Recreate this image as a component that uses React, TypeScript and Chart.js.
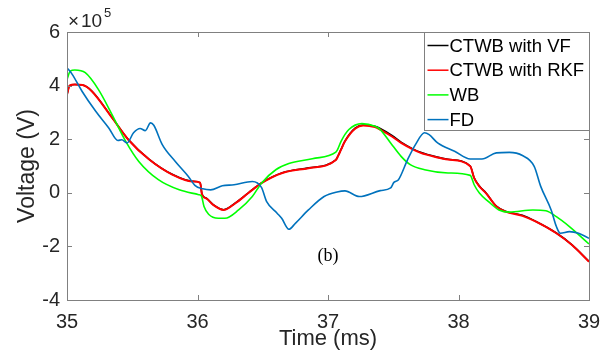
import React, { useEffect, useRef } from "react";
import { Chart, registerables } from "chart.js";

Chart.register(...registerables);

// ---- data (voltage in units of 1e5 V, time in ms) ----
const xTicks = [35, 36, 37, 38, 39];
const yTicks = [-4, -2, 0, 2, 4, 6];

const seriesNames = ["CTWB with VF", "CTWB with RKF", "WB", "FD"];
const seriesColors = ["#000000", "#ff0000", "#00ff00", "#0072bd"];

const vfT = [35.0, 35.02, 35.06, 35.12, 35.19, 35.345, 35.47, 35.63, 35.81, 35.96, 36.02, 36.035, 36.07, 36.12, 36.20, 36.29, 36.39, 36.49, 36.65, 36.85, 37.06, 37.08, 37.10, 37.13, 37.21, 37.27, 37.36, 37.40, 37.49, 37.56, 37.65, 37.71, 37.83, 37.92, 38.09, 38.12, 38.16, 38.21, 38.29, 38.36, 38.49, 38.59, 38.75, 38.87, 39.0];
const vfV = [3.67, 4.00, 4.04, 4.02, 3.80, 2.81, 1.99, 1.25, 0.68, 0.43, 0.38, -0.06, -0.21, -0.44, -0.63, -0.38, 0.0, 0.37, 0.75, 0.93, 1.23, 1.41, 1.62, 1.93, 2.42, 2.53, 2.48, 2.40, 2.14, 1.89, 1.64, 1.51, 1.34, 1.25, 1.00, 0.56, 0.25, 0.0, -0.50, -0.69, -0.84, -1.06, -1.50, -1.94, -2.56];

const rkfT = [35.0, 35.02, 35.06, 35.12, 35.19, 35.345, 35.47, 35.63, 35.81, 35.96, 36.02, 36.035, 36.07, 36.12, 36.20, 36.29, 36.39, 36.49, 36.65, 36.85, 37.06, 37.08, 37.10, 37.13, 37.21, 37.27, 37.36, 37.40, 37.49, 37.56, 37.65, 37.71, 37.83, 37.92, 38.09, 38.12, 38.16, 38.21, 38.29, 38.36, 38.49, 38.59, 38.75, 38.87, 39.0];
const rkfV = [3.67, 4.00, 4.04, 4.02, 3.79, 2.80, 1.98, 1.24, 0.67, 0.42, 0.38, -0.07, -0.22, -0.45, -0.64, -0.39, -0.01, 0.36, 0.74, 0.92, 1.22, 1.40, 1.61, 1.92, 2.40, 2.51, 2.45, 2.36, 2.10, 1.86, 1.62, 1.49, 1.33, 1.24, 0.99, 0.55, 0.24, -0.01, -0.51, -0.70, -0.86, -1.07, -1.51, -1.95, -2.57];

const wbT = [35.0, 35.025, 35.06, 35.14, 35.24, 35.345, 35.45, 35.55, 35.70, 35.86, 36.01, 36.03, 36.05, 36.085, 36.16, 36.21, 36.315, 36.42, 36.49, 36.60, 36.70, 36.88, 37.06, 37.07, 37.10, 37.16, 37.26, 37.36, 37.40, 37.48, 37.56, 37.63, 37.74, 37.92, 38.09, 38.12, 38.16, 38.23, 38.31, 38.39, 38.57, 38.67, 38.75, 38.85, 39.0];
const wbV = [4.23, 4.54, 4.58, 4.48, 3.86, 2.92, 1.92, 1.17, 0.49, 0.11, -0.07, -0.12, -0.51, -0.80, -0.95, -0.95, -0.64, -0.14, 0.36, 0.86, 1.09, 1.27, 1.52, 1.58, 1.92, 2.36, 2.58, 2.48, 2.36, 1.86, 1.36, 1.05, 0.86, 0.74, 0.65, 0.30, -0.01, -0.33, -0.64, -0.72, -0.64, -0.67, -0.89, -1.26, -1.91];

const fdT = [35.0, 35.04, 35.115, 35.22, 35.32, 35.39, 35.42, 35.46, 35.51, 35.56, 35.60, 35.64, 35.665, 35.73, 35.83, 35.93, 35.98, 36.04, 36.10, 36.19, 36.28, 36.42, 36.49, 36.53, 36.61, 36.645, 36.70, 36.75, 36.85, 36.97, 37.07, 37.13, 37.24, 37.40, 37.48, 37.505, 37.54, 37.61, 37.67, 37.74, 37.775, 37.84, 37.97, 38.09, 38.18, 38.29, 38.39, 38.49, 38.58, 38.63, 38.71, 38.75, 38.78, 38.85, 38.92, 39.0];
const fdV = [4.67, 4.42, 3.79, 3.04, 2.42, 1.95, 1.98, 1.86, 2.24, 2.40, 2.32, 2.61, 2.52, 1.80, 1.17, 0.61, 0.28, 0.15, 0.11, 0.26, 0.30, 0.42, 0.20, -0.33, -0.76, -0.95, -1.36, -1.14, -0.64, -0.14, 0.03, 0.07, -0.14, 0.08, 0.18, 0.39, 0.49, 1.24, 1.80, 2.24, 2.17, 1.86, 1.55, 1.26, 1.26, 1.49, 1.51, 1.39, 0.99, 0.24, -0.64, -1.26, -1.51, -1.45, -1.51, -1.70];

const annotX = 37.0;
const annotY = -2.36;

const AXIS_GRAY = "#808080";
const TEXT_DARK = "#262626";
const SANS = '"Liberation Sans", Arial, sans-serif';

function toPoints(t: number[], v: number[]) {
  return t.map((x, i) => ({ x, y: v[i] }));
}

const framePlugin = {
  id: "matlabFrame",
  afterDraw(chart: any) {
    const { ctx, chartArea: a, scales } = chart;
    const xs = scales.x;
    const ys = scales.y;
    ctx.save();
    // box
    ctx.strokeStyle = AXIS_GRAY;
    ctx.lineWidth = 1;
    ctx.strokeRect(Math.round(a.left) + 0.5, Math.round(a.top) + 0.5, Math.round(a.right - a.left), Math.round(a.bottom - a.top));
    // inward ticks
    const tl = 5;
    ctx.beginPath();
    xTicks.forEach((v) => {
      const px = Math.round(xs.getPixelForValue(v)) + 0.5;
      ctx.moveTo(px, a.bottom);
      ctx.lineTo(px, a.bottom - tl);
      ctx.moveTo(px, a.top);
      ctx.lineTo(px, a.top + tl);
    });
    yTicks.forEach((v) => {
      const py = Math.round(ys.getPixelForValue(v)) + 0.5;
      ctx.moveTo(a.left, py);
      ctx.lineTo(a.left + tl, py);
      ctx.moveTo(a.right, py);
      ctx.lineTo(a.right - tl, py);
    });
    ctx.stroke();

    // exponent label
    ctx.fillStyle = TEXT_DARK;
    ctx.textBaseline = "alphabetic";
    ctx.textAlign = "left";
    ctx.font = `19px ${SANS}`;
    ctx.fillText("\u00d7", a.left + 1, 27);
    ctx.fillText("10", a.left + 14, 27);
    ctx.font = `13px ${SANS}`;
    ctx.fillText("5", a.left + 37, 17);

    // (b) annotation
    ctx.fillStyle = "#000";
    ctx.font = '18px "Liberation Serif", "Times New Roman", serif';
    ctx.textAlign = "center";
    ctx.textBaseline = "middle";
    ctx.fillText("(b)", xs.getPixelForValue(annotX), ys.getPixelForValue(annotY));

    // legend
    const lx0 = 424.5, ly0 = a.top + 0.5, lw = a.right - 424, lh = 98;
    ctx.fillStyle = "#fff";
    ctx.fillRect(lx0, ly0, lw, lh);
    ctx.strokeStyle = AXIS_GRAY;
    ctx.strokeRect(lx0, ly0, lw, lh);
    ctx.font = `18.5px ${SANS}`;
    ctx.textAlign = "left";
    ctx.textBaseline = "middle";
    chart.data.datasets.forEach((ds: any, i: number) => {
      const cy = ly0 + 13 + i * 24.7;
      ctx.strokeStyle = ds.borderColor;
      ctx.lineWidth = 1.5;
      ctx.beginPath();
      ctx.moveTo(lx0 + 3, cy);
      ctx.lineTo(lx0 + 24, cy);
      ctx.stroke();
      ctx.fillStyle = "#000";
      ctx.fillText(ds.label, lx0 + 25, cy + 1);
    });
    ctx.restore();
  },
};

export default function App() {
  const ref = useRef<HTMLCanvasElement | null>(null);
  useEffect(() => {
    if (!ref.current) return;
    const series = [
      toPoints(vfT, vfV),
      toPoints(rkfT, rkfV),
      toPoints(wbT, wbV),
      toPoints(fdT, fdV),
    ];
    const widths = [1.6, 2, 1.6, 1.6];
    const chart = new Chart(ref.current, {
      type: "line",
      data: {
        datasets: [0, 1, 2, 3].map((i) => ({
          label: seriesNames[i],
          data: series[i],
          borderColor: seriesColors[i],
          backgroundColor: seriesColors[i],
          borderWidth: widths[i],
          pointRadius: 0,
          cubicInterpolationMode: "monotone" as const,
          fill: false,
          order: 4 - i,
        })),
      },
      options: {
        responsive: false,
        animation: false,
        events: [],
        layout: { padding: { top: 32, right: 25, left: 0, bottom: 0 } },
        plugins: { legend: { display: false }, tooltip: { enabled: false } },
        scales: {
          x: {
            type: "linear",
            min: 35,
            max: 39,
            afterBuildTicks: (s: any) => {
              s.ticks = xTicks.map((v) => ({ value: v }));
            },
            afterFit: (s: any) => {
              s.height = 64;
            },
            grid: { display: false, drawTicks: false },
            border: { display: false },
            ticks: {
              color: TEXT_DARK,
              font: { family: SANS, size: 20 },
              padding: 10,
              maxRotation: 0,
              callback: (v: any) => String(v),
            },
            title: {
              display: true,
              text: "Time (ms)",
              color: TEXT_DARK,
              font: { family: SANS, size: 22 },
              padding: { top: 0, bottom: 12 },
            },
          },
          y: {
            type: "linear",
            min: -4,
            max: 6,
            afterBuildTicks: (s: any) => {
              s.ticks = yTicks.map((v) => ({ value: v }));
            },
            afterFit: (s: any) => {
              s.width = 67;
            },
            grid: { display: false, drawTicks: false },
            border: { display: false },
            ticks: {
              color: TEXT_DARK,
              font: { family: SANS, size: 20 },
              padding: 7,
              callback: (v: any) => String(v),
            },
            title: {
              display: true,
              text: "Voltage (V)",
              color: TEXT_DARK,
              font: { family: SANS, size: 23 },
              padding: { top: 14, bottom: 0 },
            },
          },
        },
      },
      plugins: [framePlugin],
    } as any);
    return () => chart.destroy();
  }, []);
  return (
    <div style={{ position: "fixed", left: 0, top: 0, width: 614, height: 364, background: "#fff" }}>
      <canvas ref={ref} width={614} height={364} style={{ display: "block" }} />
    </div>
  );
}
